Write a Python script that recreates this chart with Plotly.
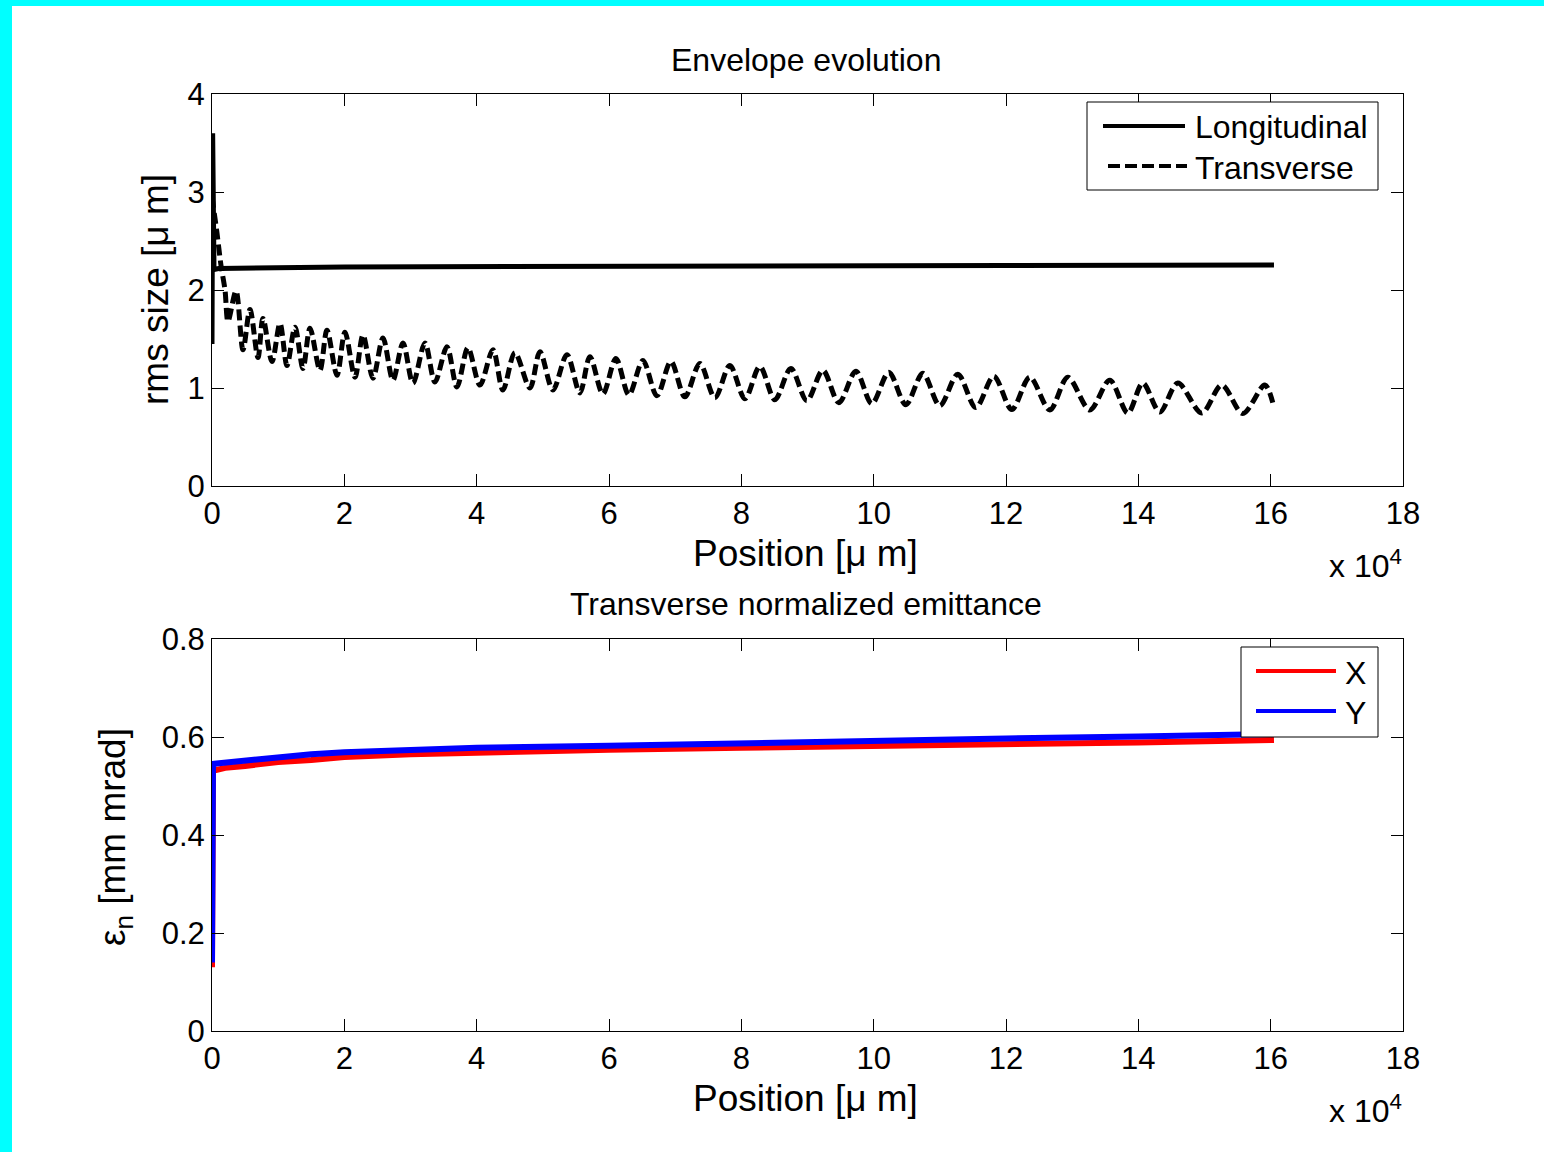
import plotly.graph_objects as go

# ---------------- data ----------------
# Envelope evolution (position in micrometres, rms size in micrometres)
long_pos = [0, 100, 300, 1000, 20000, 40000, 80000, 120000, 160500]
long_rms = [1.45, 3.6, 2.21, 2.22, 2.235, 2.24, 2.245, 2.25, 2.255]

trans_pos = [0, 756, 1360, 1964, 2418, 3626, 4684, 5742, 6951, 7706, 9066, 10275,
             11333, 12541, 13750, 14808, 16319, 17377, 18888, 20096, 21607, 22816,
             24327, 25838, 27349, 28860, 30371, 32184, 33695, 35509, 37020, 38682,
             40495, 42459, 43970, 45783, 48050, 49561, 51525, 53641, 55605, 57116,
             59080, 61044, 63009, 65124, 67240, 69355, 71470, 73737, 76003, 78270,
             80536, 82803, 85069, 87487, 89905, 92322, 94740, 97308, 99726, 102295,
             104863, 107432, 110001, 112721, 115440, 118160, 120880, 123600, 126622,
             129342, 132666, 135688, 138408, 140674, 143243, 145963, 149589, 152611,
             155784, 159108, 160317]
trans_rms = [2.95, 2.58, 2.25, 2.0, 1.68, 1.99, 1.39, 1.80, 1.31, 1.71, 1.27, 1.66,
             1.23, 1.62, 1.20, 1.61, 1.18, 1.59, 1.13, 1.57, 1.11, 1.54,
             1.10, 1.51, 1.08, 1.46, 1.05, 1.46, 1.06, 1.42, 1.01, 1.41,
             1.03, 1.39, 0.98, 1.36, 1.00, 1.37, 0.98, 1.34, 0.95, 1.32,
             0.94, 1.30, 0.93, 1.28, 0.92, 1.27, 0.91, 1.25, 0.90, 1.23,
             0.89, 1.22, 0.88, 1.20, 0.87, 1.18, 0.85, 1.17, 0.84, 1.16,
             0.83, 1.15, 0.82, 1.14, 0.80, 1.12, 0.78, 1.11, 0.776,
             1.11, 0.776, 1.08, 0.745, 1.05, 0.755, 1.05, 0.745, 1.03,
             0.74, 1.03, 0.85]

# Transverse normalized emittance (mm mrad)
emit_pos = [0, 150, 700, 2000, 5000, 10000, 15000, 20000, 30000, 40000,
            60000, 80000, 100000, 120000, 140000, 160500]
emit_x = [0.13, 0.535, 0.533, 0.537, 0.541, 0.549, 0.553, 0.559, 0.565, 0.569,
          0.574, 0.578, 0.581, 0.585, 0.589, 0.594]
emit_y = [0.14, 0.545, 0.546, 0.548, 0.552, 0.560, 0.565, 0.569, 0.575, 0.578,
          0.582, 0.588, 0.592, 0.597, 0.601, 0.606]

x_tickvals = [0, 20000, 40000, 60000, 80000, 100000, 120000, 140000, 160000, 180000]
x_ticktext = ["0", "2", "4", "6", "8", "10", "12", "14", "16", "18"]
y1_tickvals = [0, 1, 2, 3, 4]
y1_ticktext = ["0", "1", "2", "3", "4"]
y2_tickvals = [0, 0.2, 0.4, 0.6, 0.8]
y2_ticktext = ["0", "0.2", "0.4", "0.6", "0.8"]

# ---------------- figure ----------------
W, H = 1544, 1152
FONT = "Liberation Sans, Arial, sans-serif"


def px(x):
    return x / W


def py(y):
    return 1 - y / H


fig = go.Figure()
fig.add_trace(go.Scatter(x=long_pos, y=long_rms, mode="lines", name="Longitudinal",
                         line=dict(color="black", width=5), xaxis="x", yaxis="y",
                         showlegend=False))
fig.add_trace(go.Scatter(x=trans_pos, y=trans_rms, mode="lines", name="Transverse",
                         line=dict(color="black", width=5, dash="11px,5px",
                                   shape="spline", smoothing=0.9),
                         xaxis="x", yaxis="y", showlegend=False))
fig.add_trace(go.Scatter(x=emit_pos, y=emit_x, mode="lines", name="X",
                         line=dict(color="#FF0000", width=6), xaxis="x2", yaxis="y2",
                         showlegend=False))
fig.add_trace(go.Scatter(x=emit_pos, y=emit_y, mode="lines", name="Y",
                         line=dict(color="#0000FF", width=6), xaxis="x2", yaxis="y2",
                         showlegend=False))

axis_common = dict(showline=True, linecolor="black", linewidth=1, mirror="ticks",
                   ticks="inside", ticklen=12, tickwidth=1, tickcolor="black",
                   showgrid=False, zeroline=False, automargin=False,
                   tickfont=dict(family=FONT, size=31, color="black"))

xdom = [px(212), px(1403)]
fig.update_layout(
    width=W, height=H, autosize=False,
    margin=dict(l=0, r=0, t=0, b=0, pad=0, autoexpand=False),
    paper_bgcolor="#00FFFF", plot_bgcolor="white",
    xaxis=dict(domain=xdom, range=[0, 180000], tickvals=x_tickvals, ticktext=x_ticktext,
               anchor="y", **axis_common),
    yaxis=dict(domain=[py(486), py(94)], range=[0, 4], tickvals=y1_tickvals,
               ticktext=y1_ticktext, anchor="x", **axis_common),
    xaxis2=dict(domain=xdom, range=[0, 180000], tickvals=x_tickvals, ticktext=x_ticktext,
                anchor="y2", **axis_common),
    yaxis2=dict(domain=[py(1031), py(639)], range=[0, 0.8], tickvals=y2_tickvals,
                ticktext=y2_ticktext, anchor="x2", **axis_common),
    showlegend=False,
    hovermode=False,
)

shapes = [
    dict(type="rect", xref="paper", yref="paper", x0=px(12), x1=1, y0=0, y1=py(6),
         fillcolor="white", line=dict(width=0), layer="below"),
    # legend 1
    dict(type="rect", xref="paper", yref="paper", x0=px(1087), x1=px(1378),
         y0=py(190), y1=py(102), fillcolor="white", line=dict(color="black", width=1)),
    dict(type="line", xref="paper", yref="paper", x0=px(1103), x1=px(1185),
         y0=py(126), y1=py(126), line=dict(color="black", width=4)),
    dict(type="line", xref="paper", yref="paper", x0=px(1108), x1=px(1187),
         y0=py(166), y1=py(166), line=dict(color="black", width=4, dash="12px,5px")),
    # legend 2
    dict(type="rect", xref="paper", yref="paper", x0=px(1241), x1=px(1378),
         y0=py(737), y1=py(647), fillcolor="white", line=dict(color="black", width=1)),
    dict(type="line", xref="paper", yref="paper", x0=px(1256), x1=px(1336),
         y0=py(671), y1=py(671), line=dict(color="#FF0000", width=4)),
    dict(type="line", xref="paper", yref="paper", x0=px(1256), x1=px(1336),
         y0=py(711), y1=py(711), line=dict(color="#0000FF", width=4)),
]
fig.update_layout(shapes=shapes)


def ann(text, x, y, size=30, xanchor="center", yanchor="middle", angle=0):
    return dict(text=text, x=px(x), y=py(y), xref="paper", yref="paper",
                showarrow=False, xanchor=xanchor, yanchor=yanchor, textangle=angle,
                font=dict(family=FONT, size=size, color="black"))


annotations = [
    ann("Envelope evolution", 806, 60, size=32),
    ann("Transverse normalized emittance", 806, 604, size=32),
    ann("Position [\u03bc m]", 805, 553, size=37),
    ann("Position [\u03bc m]", 805, 1098, size=37),
    ann("x 10<sup>4</sup>", 1404, 564, size=32, xanchor="right"),
    ann("x 10<sup>4</sup>", 1404, 1109, size=32, xanchor="right"),
    ann("rms size [\u03bc m]", 155, 290, size=37, angle=-90),
    ann("\u03b5<sub>n</sub> [mm mrad]", 115, 837, size=37, angle=-90),
    ann("Longitudinal", 1193, 127, size=32, xanchor="left"),
    ann("Transverse", 1193, 168, size=32, xanchor="left"),
    ann("X", 1343, 673, size=32, xanchor="left"),
    ann("Y", 1343, 713, size=32, xanchor="left"),
]
fig.update_layout(annotations=annotations)

fig.write_html(
    "out.html",
    config={"responsive": False, "displayModeBar": False},
    default_width="1544px",
    default_height="1152px",
    post_script="document.body.style.margin='0';document.body.style.padding='0';"
                "document.body.style.overflow='hidden';",
)
